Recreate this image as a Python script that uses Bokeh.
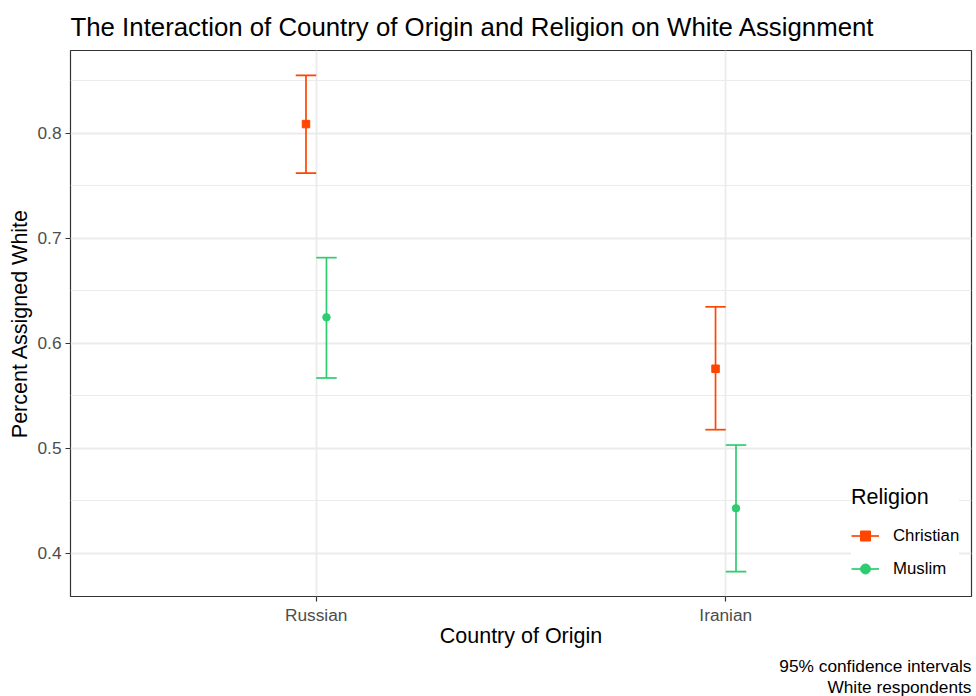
import numpy as np
from bokeh.plotting import figure
from bokeh.models import (ColumnDataSource, FixedTicker, Range1d, Title,
                          Legend, LegendItem)
from bokeh.embed import file_html
from bokeh.resources import INLINE

# ---- data ----
countries = ["Russian", "Iranian"]
religions = ["Christian", "Muslim"]
christian_est = [0.8085, 0.5757]
christian_lo = [0.7618, 0.5177]
christian_hi = [0.8549, 0.6346]
muslim_est = [0.6246, 0.4429]
muslim_lo = [0.5669, 0.3826]
muslim_hi = [0.6814, 0.5031]
y_ticks = [0.4, 0.5, 0.6, 0.7, 0.8]
y_minor_ticks = [0.45, 0.55, 0.65, 0.75, 0.85]

title_text = "The Interaction of Country of Origin and Religion on White Assignment"
x_title = "Country of Origin"
y_title = "Percent Assigned White"
caption_lines = ["95% confidence intervals", "White respondents"]

# ---- styles ----
colors = {"Christian": "#FF4500", "Muslim": "#2ECC71"}
markers = {"Christian": "square", "Muslim": "circle"}
offsets = {"Christian": -0.025, "Muslim": 0.025}
cap_half = 0.025
FONT = "Liberation Sans"

series = {
    "Christian": (christian_est, christian_lo, christian_hi),
    "Muslim": (muslim_est, muslim_lo, muslim_hi),
}

all_vals = christian_lo + christian_hi + muslim_lo + muslim_hi
vmin, vmax = min(all_vals), max(all_vals)
span = vmax - vmin
y_range = Range1d(vmin - 0.05 * span, vmax + 0.05 * span)
x_idx = list(range(1, len(countries) + 1))
x_range = Range1d(0.4, len(countries) + 0.6)

p = figure(width=976, height=696, x_range=x_range, y_range=y_range,
           output_backend="svg", toolbar_location=None,
           min_border_left=70, min_border_right=5,
           min_border_top=50, min_border_bottom=100)
p.background_fill_color = "white"
p.border_fill_color = "white"
p.outline_line_color = "#333333"
p.outline_line_width = 1.2

# title
p.title.text = title_text
p.title.text_font = FONT
p.title.text_font_size = "25.8px"
p.title.text_font_style = "normal"
p.title.text_color = "black"
p.title.align = "left"
p.title.vertical_align = "top"
p.title.standoff = 16

# axes
p.xaxis.ticker = FixedTicker(ticks=x_idx, minor_ticks=[])
p.xaxis.major_label_overrides = {i: c for i, c in zip(x_idx, countries)}
p.yaxis.ticker = FixedTicker(ticks=y_ticks, minor_ticks=y_minor_ticks)
p.xaxis.axis_label = x_title
p.yaxis.axis_label = y_title
for ax in (p.xaxis, p.yaxis):
    ax.axis_line_color = None
    ax.major_tick_line_color = "#333333"
    ax.major_tick_line_width = 1.2
    ax.major_tick_out = 5
    ax.major_tick_in = 0
    ax.minor_tick_line_color = None
    ax.major_label_text_font = FONT
    ax.major_label_text_font_size = "17.3px"
    ax.major_label_text_color = "#4D4D4D"
    ax.axis_label_text_font = FONT
    ax.axis_label_text_font_size = "21.5px"
    ax.axis_label_text_font_style = "normal"
    ax.axis_label_text_color = "black"
p.xaxis.major_label_standoff = 3
p.yaxis.major_label_standoff = 4
p.xaxis.axis_label_standoff = -4
p.yaxis.axis_label_standoff = 2

# caption (two right-aligned lines below the plot)
for k, line in enumerate(caption_lines):
    p.add_layout(Title(text=line, align="right", text_font=FONT,
                       text_font_size="17.3px", text_font_style="normal",
                       text_color="black",
                       standoff=7 if k == 0 else -10, offset=0), "below")

# grid
p.xgrid.grid_line_color = "#EBEBEB"
p.xgrid.grid_line_width = 1.8
p.ygrid.grid_line_color = "#EBEBEB"
p.ygrid.grid_line_width = 1.8
p.ygrid.minor_grid_line_color = "#EBEBEB"
p.ygrid.minor_grid_line_width = 1.0

items = []
for rel in religions:
    est, lo, hi = series[rel]
    xs = [i + offsets[rel] for i in x_idx]
    src = ColumnDataSource(dict(
        x=xs, est=est, lo=lo, hi=hi,
        xl=[x - cap_half for x in xs], xr=[x + cap_half for x in xs]))
    col = colors[rel]
    vr = p.segment(x0="x", y0="lo", x1="x", y1="hi", source=src,
                   line_color=col, line_width=1.7)
    p.segment(x0="xl", y0="hi", x1="xr", y1="hi", source=src,
              line_color=col, line_width=1.7)
    p.segment(x0="xl", y0="lo", x1="xr", y1="lo", source=src,
              line_color=col, line_width=1.7)
    sr = p.scatter(x="x", y="est", source=src, marker=markers[rel],
                   size=7.5, fill_color=col, line_color=col)
    items.append(LegendItem(label=rel, renderers=[vr, sr]))

legend = Legend(items=items, location=(781, 15), title="Religion",
                title_text_font=FONT, title_text_font_size="21.5px",
                title_text_font_style="normal", title_text_color="black",
                label_text_font=FONT, label_text_font_size="16.8px",
                label_text_color="black",
                glyph_width=28, glyph_height=25, label_height=25,
                label_standoff=14, spacing=8, padding=12,
                title_standoff=13, border_line_color=None,
                background_fill_color="white", background_fill_alpha=1.0,
                margin=0)
p.add_layout(legend)

open("out.html", "w").write(file_html(p, INLINE))
